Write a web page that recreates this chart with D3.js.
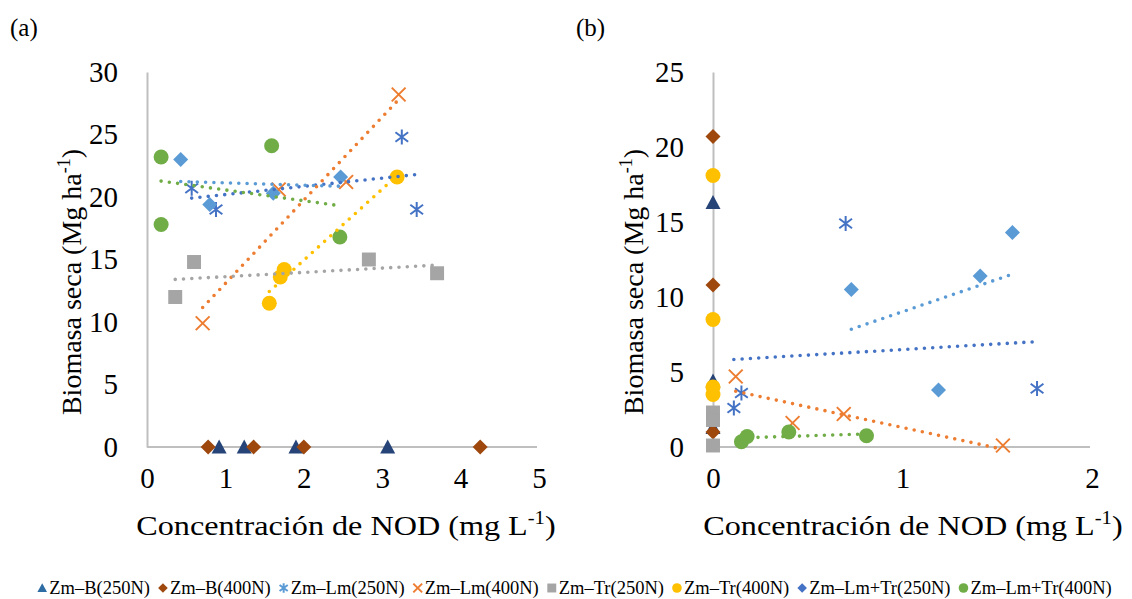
<!DOCTYPE html>
<html>
<head>
<meta charset="utf-8">
<script src="https://cdn.jsdelivr.net/npm/d3@7"></script>
<style>
  body { margin: 0; background: #fff; }
  text { font-family: "Liberation Serif", "Times New Roman", serif; fill: #000; }
</style>
</head>
<body>
<div id="chart"></div>
<script>
// series, in legend order
const seriesNames = ["Zm–B(250N)", "Zm–B(400N)", "Zm–Lm(250N)", "Zm–Lm(400N)",
  "Zm–Tr(250N)", "Zm–Tr(400N)", "Zm–Lm+Tr(250N)", "Zm–Lm+Tr(400N)"];
const seriesColors = ["#264478", "#9E480E", "#4472C4", "#ED7D31", "#A5A5A5", "#FFC000", "#5B9BD5", "#70AD47"];
const legendColors = ["#2E6DA4", "#9E480E", "#5B9BD5", "#ED7D31", "#A5A5A5", "#FFC000", "#4472C4", "#70AD47"];
const seriesShapes = ["triangle", "diamond", "star", "cross", "square", "circle", "diamond", "circle"];

// panel (a): [NOD, biomasa]
const aB250 = [[0.92, 0], [1.24, 0], [1.90, 0], [3.07, 0]];
const aB400 = [[0.78, 0], [1.36, 0], [2.00, 0], [4.25, 0]];
const aLm250 = [[0.57, 20.7], [0.88, 19.0], [3.25, 24.8], [3.44, 19.0]];
const aLm400 = [[0.71, 9.9], [1.68, 20.6], [2.54, 21.2], [3.21, 28.2]];
const aTr250 = [[0.36, 12.0], [0.60, 14.8], [2.83, 15.0], [3.70, 13.9]];
const aTr400 = [[1.56, 11.5], [1.70, 13.6], [1.75, 14.2], [3.19, 21.6]];
const aLmTr250 = [[0.43, 23.0], [0.80, 19.4], [1.61, 20.3], [2.47, 21.6]];
const aLmTr400 = [[0.18, 23.2], [0.18, 17.8], [1.59, 24.1], [2.46, 16.8]];
const aTrend = [false, false, true, true, true, true, true, true];

// panel (b)
const bB250 = [[0, 16.3], [0, 4.4], [0, 1.3]];
const bB400 = [[0, 20.7], [0, 10.8], [0, 1.0]];
const bLm250 = [[0.11, 2.6], [0.15, 3.6], [0.70, 14.9], [1.71, 3.9]];
const bLm400 = [[0.12, 4.7], [0.42, 1.6], [0.69, 2.2], [1.53, 0.1]];
const bTr250 = [[0, 2.3], [0, 1.8], [0, 0.1]];
const bTr400 = [[0, 18.1], [0, 8.5], [0, 4.0], [0, 3.5]];
const bLmTr250 = [[0.73, 10.5], [1.19, 3.8], [1.41, 11.4], [1.58, 14.3]];
const bLmTr400 = [[0.15, 0.35], [0.18, 0.7], [0.40, 1.0], [0.81, 0.75]];
const bTrend = [false, false, true, true, false, false, true, true];

const aXTicks = [0, 1, 2, 3, 4, 5];
const aYTicks = [0, 5, 10, 15, 20, 25, 30];
const bXTicks = [0, 1, 2];
const bYTicks = [0, 5, 10, 15, 20, 25];

const panels = [
  { label: "(a)", labelX: 10, x0: 147, x1: 539, xMax: 5, yMax: 30, xTicks: aXTicks, yTicks: aYTicks,
    series: [aB250, aB400, aLm250, aLm400, aTr250, aTr400, aLmTr250, aLmTr400], trend: aTrend,
    yTitleX: 71, xTitleX: 346 },
  { label: "(b)", labelX: 576, x0: 713, x1: 1092, xMax: 2, yMax: 25, xTicks: bXTicks, yTicks: bYTicks,
    series: [bB250, bB400, bLm250, bLm400, bTr250, bTr400, bLmTr250, bLmTr400], trend: bTrend,
    yTitleX: 633, xTitleX: 913 }
];

const width = 1132, height = 599;
const yTop = 72, yBottom = 447;
const fontTick = 29, fontTitle = 28;

const svg = d3.select("#chart").append("svg")
  .attr("width", width)
  .attr("height", height);

function drawMarker(g, shape, color, s) {
  if (shape === "circle") {
    g.append("circle").attr("r", s).attr("fill", color);
  } else if (shape === "square") {
    g.append("rect").attr("x", -s * 0.93).attr("y", -s * 0.93)
      .attr("width", s * 1.86).attr("height", s * 1.86).attr("fill", color);
  } else if (shape === "diamond") {
    g.append("path").attr("d", `M0,${-s}L${s},0L0,${s}L${-s},0Z`).attr("fill", color);
  } else if (shape === "triangle") {
    g.append("path").attr("d", `M0,${-s}L${s},${s * 0.85}L${-s},${s * 0.85}Z`).attr("fill", color);
  } else if (shape === "cross") {
    const r = s * 0.92;
    g.append("path").attr("d", `M${-r},${-r}L${r},${r}M${-r},${r}L${r},${-r}`)
      .attr("stroke", color).attr("stroke-width", 2).attr("fill", "none");
  } else if (shape === "star") {
    const r = s * 0.85;
    g.append("path").attr("d", `M${-r},${-r * 0.75}L${r},${r * 0.75}M${-r},${r * 0.75}L${r},${-r * 0.75}M0,${-s}L0,${s}`)
      .attr("stroke", color).attr("stroke-width", 2).attr("fill", "none");
  }
}

function linearFit(pts) {
  const mx = d3.mean(pts, d => d[0]);
  const my = d3.mean(pts, d => d[1]);
  const sxy = d3.sum(pts, d => (d[0] - mx) * (d[1] - my));
  const sxx = d3.sum(pts, d => (d[0] - mx) * (d[0] - mx));
  const slope = sxy / sxx;
  const b = my - slope * mx;
  const [lo, hi] = d3.extent(pts, d => d[0]);
  return [[lo, b + slope * lo], [hi, b + slope * hi]];
}

function titleText(g, main, end) {
  g.append("tspan").text(main);
  g.append("tspan").attr("font-size", 18).attr("dy", -11).text("-1");
  g.append("tspan").attr("dy", 11).text(end);
}

panels.forEach(p => {
  const x = d3.scaleLinear().domain([0, p.xMax]).range([p.x0, p.x1]);
  const y = d3.scaleLinear().domain([0, p.yMax]).range([yBottom, yTop]);
  const g = svg.append("g");

  g.append("text")
    .attr("x", p.labelX).attr("y", 36)
    .attr("font-size", 25)
    .text(p.label);

  const yAxis = g.append("g")
    .attr("transform", `translate(${p.x0},0)`)
    .call(d3.axisLeft(y).tickValues(p.yTicks).tickSize(0).tickPadding(29));
  const xAxis = g.append("g")
    .attr("transform", `translate(0,${yBottom})`)
    .call(d3.axisBottom(x).tickValues(p.xTicks).tickSize(0).tickPadding(20).tickFormat(d3.format("d")));
  [yAxis, xAxis].forEach(a => {
    a.attr("font-family", null);
    a.select(".domain").attr("stroke", "#BFBFBF").attr("stroke-width", 2);
    a.selectAll("text").attr("font-size", fontTick).attr("fill", "#000");
  });
  xAxis.select(".domain").attr("d", `M${p.x0},0H${p.x1 - 2}`);

  // markers, series in order
  p.series.forEach((pts, i) => {
    pts.forEach(d => {
      const m = g.append("g").attr("transform", `translate(${x(d[0])},${y(d[1])})`);
      drawMarker(m, seriesShapes[i], seriesColors[i], 7.5);
    });
  });

  // linear trendlines on top
  const line = d3.line().x(d => x(d[0])).y(d => y(d[1]));
  p.series.forEach((pts, i) => {
    if (!p.trend[i]) return;
    g.append("path")
      .attr("d", line(linearFit(pts)))
      .attr("fill", "none")
      .attr("stroke", seriesColors[i])
      .attr("stroke-width", 3.6)
      .attr("stroke-linecap", "round")
      .attr("stroke-dasharray", "0,8.3");
  });

  const yt = g.append("text")
    .attr("font-size", fontTitle)
    .attr("text-anchor", "middle")
    .attr("transform", `translate(${p.yTitleX},282) rotate(-90)`)
    .attr("dy", "0.35em");
  titleText(yt, "Biomasa seca (Mg ha", ")");

  // x title is a little wider than plain text in the original
  const xt = g.append("text")
    .attr("font-size", fontTitle)
    .attr("text-anchor", "middle")
    .attr("transform", `translate(${p.xTitleX},535) scale(1.15,1)`);
  titleText(xt, "Concentración de NOD (mg L", ")");
});

// legend
const legend = svg.append("g");
let cx = 0;
seriesNames.forEach((name, i) => {
  const it = legend.append("g").attr("transform", `translate(${cx},0)`);
  drawMarker(it.append("g").attr("transform", "translate(0,-6)"), seriesShapes[i], legendColors[i], 4.8);
  const t = it.append("text").attr("x", 7).attr("y", 0).attr("font-size", 18.5).text(name);
  cx += 7 + t.node().getComputedTextLength() + 13;
});
const legendW = cx - 13;
legend.attr("transform", `translate(${575 - legendW / 2 + 2},594)`);
</script>
</body>
</html>
